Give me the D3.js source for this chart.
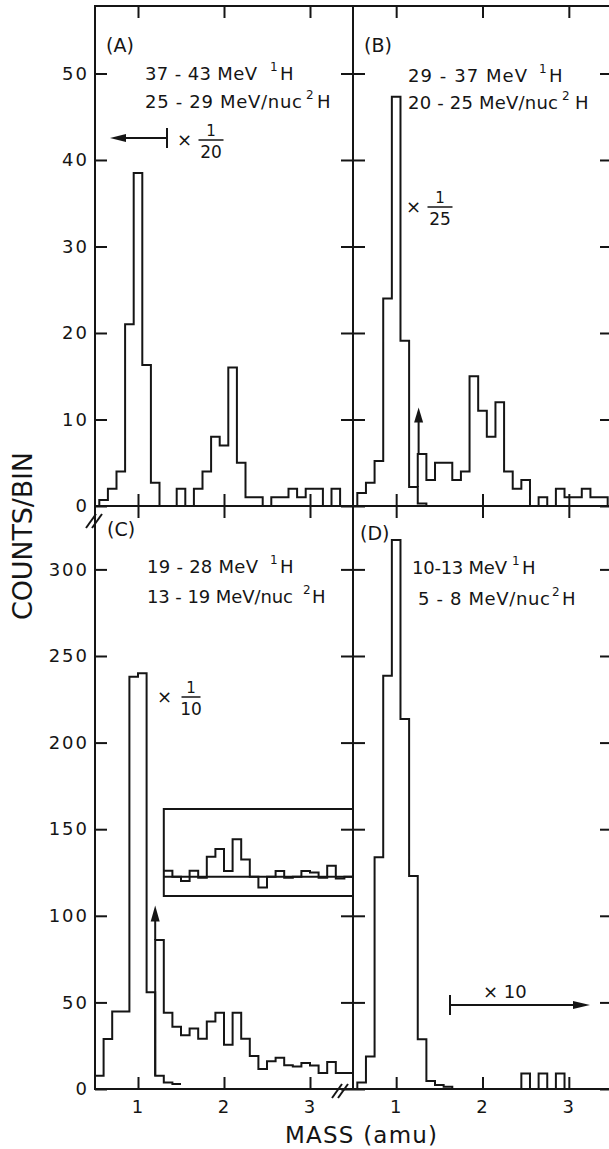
<!DOCTYPE html>
<html><head><meta charset="utf-8">
<script src="https://cdn.jsdelivr.net/npm/d3@7"></script>
<style>
body{margin:0;background:#fff}
svg{display:block;background:#fff}
text{font-family:"DejaVu Sans",sans-serif;fill:#151515}
.tick line{stroke:#151515;stroke-width:2}
.tick text{font-size:18px;letter-spacing:2px}
</style>
</head><body>
<svg id="chart" width="609" height="1149"></svg>
<script>
// ---------------- data ----------------
const binWidth = 0.1;
const massA = [0.6,0.7,0.8,0.9,1.0,1.1,1.2,1.3,1.4,1.5,1.6,1.7,1.8,1.9,2.0,2.1,2.2,2.3,2.4,2.5,2.6,2.7,2.8,2.9,3.0,3.1,3.2,3.3,3.4];
const countsA = [0.7,2,4,21,38.5,16.3,2.7,0,0,2,0,2,4,8,7,16,5,1,1,0,1,1,2,1,2,2,0,2,0];

const massB1 = [0.6,0.7,0.8,0.9,1.0,1.1,1.2,1.3];
const countsB1 = [1.5,2.7,5.2,24,47.3,19.1,2.2,0.3];           // x 1/25
const massB2 = [1.3,1.4,1.5,1.6,1.7,1.8,1.9,2.0,2.1,2.2,2.3,2.4,2.5,2.6,2.7,2.8,2.9,3.0,3.1,3.2,3.3,3.4];
const countsB2 = [6,3,5,5,3,4,15,11,8,12,4,2,3,0,1,0,2,1,1,2,1,1];

const massC1 = [0.55,0.65,0.75,0.85,0.95,1.05,1.15,1.25,1.35,1.45];
const countsC1 = [7.7,28.9,44.8,44.8,238,240,55.8,7.7,3.8,2.9];   // x 1/10
const massC2 = [1.25,1.35,1.45,1.55,1.65,1.75,1.85,1.95,2.05,2.15,2.25,2.35,2.45,2.55,2.65,2.75,2.85,2.95,3.05,3.15,3.25,3.35,3.45];
const countsC2 = [86,44,36,31,35,29,39,44,25.6,44,29,19,11.5,16,18,13.7,13,15,13.5,9.2,15.6,9.2,9.2];
const massInset = [1.35,1.45,1.55,1.65,1.75,1.85,1.95,2.05,2.15,2.25,2.35,2.45,2.55,2.65,2.75,2.85,2.95,3.05,3.15,3.25,3.35,3.45];
const countsInset = [3.5,0,-2.5,3.5,-0.6,11.5,16,3.3,21.6,10,0,-6.2,0,3.3,-0.6,0,3.3,2.5,-0.6,6.4,-1,0];

const massD = [0.6,0.7,0.8,0.9,1.0,1.1,1.2,1.3,1.4,1.5,1.6,1.7,1.8,1.9,2.0,2.1,2.2,2.3,2.4,2.5,2.6,2.7,2.8,2.9,3.0,3.1,3.2,3.3,3.4];
const countsD = [3.7,18.7,133.8,238.6,317,213.6,123,28.7,4.6,2.3,1.3,0,0,0,0,0,0,0,0,9,0,9,0,9,0,0,0,0,0];

const xTicks = [1,2,3];
const xTickLabels = ["1","2","3"];
const yTicksTop = [0,10,20,30,40,50];
const yTicksBottom = [0,50,100,150,200,250,300];

// ---------------- scales ----------------
const svg = d3.select("#chart");
const xL = d3.scaleLinear().domain([0.5,3.5]).range([95,353]);
const xR = d3.scaleLinear().domain([0.5,3.5]).range([353,612]);
const yT = d3.scaleLinear().domain([0,57.8]).range([506,6]);
const yB = d3.scaleLinear().domain([0,336.6]).range([1089,506]);
const yI = d3.scaleLinear().domain([-11.1,39.1]).range([896,809]);
const INK = "#151515";

function stepPath(mass, counts, x, y, opt) {
  const pts = [];
  const w = binWidth/2;
  if (opt.start !== undefined) pts.push([mass[0]-w, opt.start]);
  mass.forEach((m,i)=>{ pts.push([m-w, counts[i]]); pts.push([m+w, counts[i]]); });
  if (opt.end !== undefined) pts.push([mass[mass.length-1]+w, opt.end]);
  return d3.line().x(d=>x(d[0])).y(d=>y(d[1]))(pts);
}
function drawHist(mass, counts, x, y, opt) {
  svg.append("path").attr("d", stepPath(mass, counts, x, y, opt))
    .attr("fill","none").attr("stroke",INK).attr("stroke-width",2)
    .attr("stroke-linejoin","miter");
}

// ---------------- frames & ticks ----------------
const panels = [
  {x:xL, y:yT, yt:yTicksTop, left:true,  bottom:false},
  {x:xR, y:yT, yt:yTicksTop, left:false, bottom:false},
  {x:xL, y:yB, yt:yTicksBottom, left:true,  bottom:true},
  {x:xR, y:yB, yt:yTicksBottom, left:false, bottom:true}
];
panels.forEach(p=>{
  const [x0,x1] = p.x.range(), [y0,y1] = p.y.range();
  const gl = svg.append("g").attr("transform",`translate(${x0},0)`)
    .call(d3.axisLeft(p.y).tickValues(p.yt).tickSizeInner(-12).tickSizeOuter(0).tickPadding(6)
      .tickFormat(p.left ? d3.format("d") : ""));
  gl.select(".domain").remove();
  const gr = svg.append("g").attr("transform",`translate(${x1},0)`)
    .call(d3.axisRight(p.y).tickValues(p.yt).tickSizeInner(-12).tickSizeOuter(0).tickFormat(""));
  gr.select(".domain").remove();
  const gt = svg.append("g").attr("transform",`translate(0,${y1})`)
    .call(d3.axisTop(p.x).tickValues(xTicks).tickSizeInner(-12).tickSizeOuter(0).tickFormat(""));
  gt.select(".domain").remove();
  const gb = svg.append("g").attr("transform",`translate(0,${y0})`)
    .call(d3.axisBottom(p.x).tickValues(xTicks).tickSizeInner(-12).tickSizeOuter(0).tickPadding(11)
      .tickFormat(p.bottom ? (d,i)=>xTickLabels[i] : ""));
  gb.select(".domain").remove();
  svg.append("rect").attr("x",x0).attr("y",y1).attr("width",x1-x0).attr("height",y0-y1)
    .attr("fill","none").attr("stroke",INK).attr("stroke-width",2);
});
svg.selectAll(".tick text").attr("fill",INK);

// ---------------- histograms ----------------
drawHist(massA, countsA, xL, yT, {start:0, end:0});
drawHist(massB1, countsB1, xR, yT, {start:0, end:0});
drawHist(massB2, countsB2, xR, yT, {start:countsB1[6], end:0});
drawHist(massC1, countsC1, xL, yB, {start:0});
drawHist(massC2, countsC2, xL, yB, {start:countsC1[7]});
drawHist(massD, countsD, xR, yB, {start:0, end:0});

// inset in (C)
svg.append("rect").attr("x",xL(1.3)).attr("y",yI(39.1)).attr("width",xL(3.5)-xL(1.3)).attr("height",yI(-11.1)-yI(39.1))
  .attr("fill","none").attr("stroke",INK).attr("stroke-width",2);
svg.append("line").attr("x1",xL(1.3)).attr("x2",xL(3.5)).attr("y1",yI(0)).attr("y2",yI(0))
  .attr("stroke",INK).attr("stroke-width",2);
drawHist(massInset, countsInset, xL, yI, {});

// ---------------- arrows ----------------
function upArrow(x, yBase, yTip, len, w) {
  svg.append("line").attr("x1",x).attr("x2",x).attr("y1",yBase).attr("y2",yTip+len-2)
    .attr("stroke",INK).attr("stroke-width",2);
  svg.append("path").attr("d",`M${x},${yTip} L${x-w/2},${yTip+len} L${x+w/2},${yTip+len} Z`).attr("fill",INK);
}
upArrow(xR(1.26), yT(countsB2[0]), yT(11.4), 15, 9);
upArrow(xL(1.2), yB(countsC2[0]), yB(106), 16, 9);

function hArrow(xStart, xTip, y, len, h) {
  const dir = Math.sign(xTip - xStart);
  svg.append("line").attr("x1",xStart).attr("x2",xTip - dir*(len-2)).attr("y1",y).attr("y2",y)
    .attr("stroke",INK).attr("stroke-width",2);
  svg.append("path").attr("d",`M${xTip},${y} L${xTip-dir*len},${y-h/2} L${xTip-dir*len},${y+h/2} Z`).attr("fill",INK);
  svg.append("line").attr("x1",xStart).attr("x2",xStart).attr("y1",y-10).attr("y2",y+10)
    .attr("stroke",INK).attr("stroke-width",2);
}
hArrow(167, 110, 138, 16, 8);
hArrow(450, 590, 1005, 17, 8);

// ---------------- text ----------------
function txt(s, x, y, size, anchor, len) {
  const t = svg.append("text").attr("x",x).attr("y",y).attr("font-size",size)
    .attr("text-anchor",anchor||"start").text(s);
  if (len) t.attr("textLength",len);
  return t;
}
function label(lines) {
  lines.forEach(l=>{
    txt(l.main, l.x, l.y, 18, "start", l.len);
    txt(l.sup, l.sx, l.y-9, 12);
    txt("H", l.hx, l.y, 18);
  });
}
txt("(A)",106,52,19); txt("(B)",364,52,19); txt("(C)",107,536,19); txt("(D)",360,540,19);
label([
  {main:"37 - 43 MeV", x:145, y:80, len:112, sup:"1", sx:270, hx:280},
  {main:"25 - 29 MeV/nuc", x:145, y:108, len:157, sup:"2", sx:306, hx:317},
  {main:"29 - 37 MeV", x:408, y:82, len:119, sup:"1", sx:539, hx:549},
  {main:"20 - 25 MeV/nuc", x:408, y:109, len:150, sup:"2", sx:562, hx:575},
  {main:"19 - 28 MeV", x:147, y:573, len:111, sup:"1", sx:270, hx:280},
  {main:"13 - 19 MeV/nuc", x:147, y:603, len:146, sup:"2", sx:303, hx:312},
  {main:"10-13 MeV", x:412, y:574, len:95, sup:"1", sx:512, hx:522},
  {main:"5 - 8 MeV/nuc", x:418, y:605, len:132, sup:"2", sx:552, hx:562}
]);

function frac(xTimes, yCenter, xc, num, den, barW) {
  txt("×", xTimes, yCenter+6, 18);
  txt(num, xc, yCenter-4, 15, "middle");
  svg.append("line").attr("x1",xc-barW/2).attr("x2",xc+barW/2).attr("y1",yCenter).attr("y2",yCenter)
    .attr("stroke",INK).attr("stroke-width",1.5);
  txt(den, xc, yCenter+18, 17, "middle");
}
frac(177, 140, 211, "1", "20", 25);
frac(406, 207, 440, "1", "25", 25);
frac(157, 697, 191, "1", "10", 19);
txt("× 10", 483, 998, 18);

// axis titles
txt("COUNTS/BIN", 0, 0, 27, "middle", 168).attr("transform","translate(32,536) rotate(-90)");
txt("MASS (amu)", 285, 1143, 23, "start", 152);

// axis-break marks
function brk(x, y) {
  [-4,2].forEach(dx=>{
    svg.append("line").attr("x1",x+dx-5).attr("y1",y+7).attr("x2",x+dx+5).attr("y2",y-7)
      .attr("stroke",INK).attr("stroke-width",2);
  });
}
brk(95, 521);
brk(341, 1091);
</script>
</body></html>
